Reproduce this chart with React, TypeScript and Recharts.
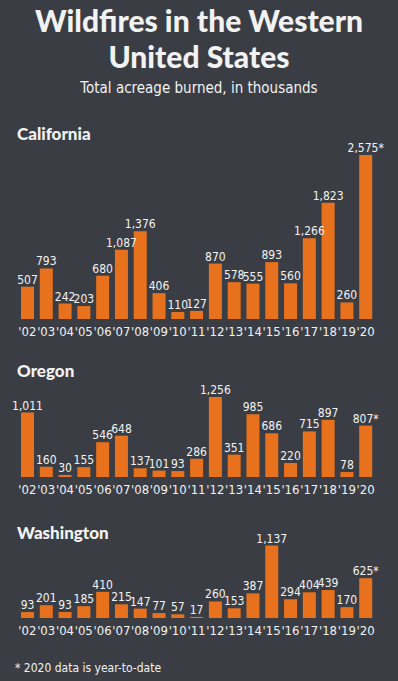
import React from 'react';
import { BarChart, Bar, XAxis, YAxis, LabelList } from 'recharts';

const years = ['02', '03', '04', '05', '06', '07', '08', '09', '10', '11', '12', '13', '14', '15', '16', '17', '18', '19', '20'];
const california = [507, 793, 242, 203, 680, 1087, 1376, 406, 110, 127, 870, 578, 555, 893, 560, 1266, 1823, 260, 2575];
const oregon = [1011, 160, 30, 155, 546, 648, 137, 101, 93, 286, 1256, 351, 985, 686, 220, 715, 897, 78, 807];
const washington = [93, 201, 93, 185, 410, 215, 147, 77, 57, 17, 260, 153, 387, 1137, 294, 404, 439, 170, 625];

const BG = '#3a3e44';
const ORANGE = '#e8711e';
const TEXT = '#f2f2f2';
const NARROW = '"Liberation Sans Narrow", "DejaVu Sans Condensed", sans-serif';
const PX_PER_K = 0.0637; // same y scale in every panel
const AXIS_H = 26;

const fmt = (v: number, i: number) => {
  const s = v.toLocaleString('en-US');
  return i === years.length - 1 ? s + '*' : s;
};

interface PanelProps {
  title: string;
  values: number[];
  titleTop: number;
  chartTop: number;
  chartH: number;
}

const Panel = ({ title, values, titleTop, chartTop, chartH }: PanelProps) => {
  const data = years.map((y, i) => ({ year: "'" + y, value: values[i], label: fmt(values[i], i) }));
  const plotH = chartH - AXIS_H;
  return (
    <>
      <div style={{ position: 'absolute', left: 0, top: chartTop }}>
        <BarChart
          width={398}
          height={chartH}
          data={data}
          margin={{ top: 0, right: 23, bottom: 0, left: 18 }}
          barCategoryGap={0}
        >
          <XAxis
            dataKey="year"
            axisLine={false}
            tickLine={false}
            height={AXIS_H}
            interval={0}
            tick={{ fill: TEXT, fontSize: 13, fontFamily: NARROW }}
            tickMargin={2}
          />
          <YAxis hide domain={[0, plotH / PX_PER_K]} />
          <Bar dataKey="value" fill={ORANGE} barSize={13} isAnimationActive={false}>
            <LabelList
              dataKey="label"
              position="top"
              offset={3}
              fill={TEXT}
              fontSize={12}
              fontFamily={NARROW}
            />
          </Bar>
        </BarChart>
      </div>
      <div
        style={{
          position: 'absolute',
          left: 17,
          top: titleTop,
          fontFamily: 'Lato',
          fontWeight: 900,
          fontSize: 17,
          color: TEXT,
        }}
      >
        {title}
      </div>
    </>
  );
};

export default function App() {
  return (
    <div
      style={{
        position: 'absolute',
        left: 0,
        top: 0,
        width: 398,
        height: 681,
        background: BG,
        overflow: 'hidden',
      }}
    >
      <div
        style={{
          position: 'absolute',
          left: 0,
          width: 398,
          top: 2,
          textAlign: 'center',
          fontFamily: 'Lato',
          fontWeight: 900,
          fontSize: 30,
          lineHeight: '36px',
          color: TEXT,
        }}
      >
        Wildfires in the Western
        <br />
        United States
      </div>
      <div
        style={{
          position: 'absolute',
          left: 0,
          width: 398,
          top: 79,
          textAlign: 'center',
          fontFamily: NARROW,
          fontSize: 15,
          color: TEXT,
        }}
      >
        Total acreage burned, in thousands
      </div>

      <Panel title="California" values={california} titleTop={123} chartTop={140} chartH={205} />
      <Panel title="Oregon" values={oregon} titleTop={360} chartTop={375} chartH={128} />
      <Panel title="Washington" values={washington} titleTop={522} chartTop={525} chartH={119} />

      <div
        style={{
          position: 'absolute',
          left: 15,
          top: 661,
          fontFamily: NARROW,
          fontSize: 12,
          color: TEXT,
        }}
      >
        * 2020 data is year-to-date
      </div>
    </div>
  );
}
